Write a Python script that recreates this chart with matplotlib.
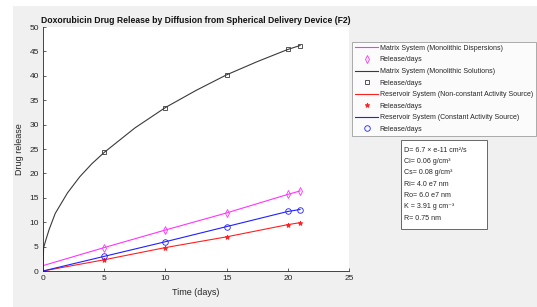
import numpy as np
import matplotlib.pyplot as plt
from matplotlib.patches import Rectangle

plt.rcParams['font.family'] = ['Liberation Sans', 'DejaVu Sans']

# release data
t_days = [5, 10, 15, 20, 21]
dispersion_pts = [4.8, 8.4, 11.9, 15.7, 16.4]
solution_pts = [24.3, 33.5, 40.2, 45.4, 46.2]
nonconst_pts = [2.3, 4.8, 7.0, 9.5, 9.9]
const_pts = [3.0, 6.0, 9.1, 12.2, 12.6]

t_line = [0, 5, 10, 15, 20, 21]
dispersion_line = [1.1, 4.8, 8.4, 11.9, 15.7, 16.4]
nonconst_line = [0, 2.3, 4.8, 7.0, 9.5, 9.9]
const_line = [0, 3.0, 6.0, 9.1, 12.2, 12.6]

t_curve = [0, 0.05, 0.25, 0.5, 1, 2, 3, 4, 5, 7.5, 10, 12.5, 15, 17.5, 20, 21]
solution_curve = [0, 4.8, 6.5, 8.5, 11.8, 16.0, 19.3, 22.0, 24.3, 29.3, 33.5, 37.0, 40.2, 42.9, 45.4, 46.2]

info_lines = ["D= 6.7 \u00d7 e-11 cm\u00b2/s", "Ci= 0.06 g/cm\u00b3", "Cs= 0.08 g/cm\u00b3",
              "Ri= 4.0 e7 nm", "Ro= 6.0 e7 nm", "K = 3.91 g cm\u207b\u00b3", "R= 0.75 nm"]

W, H = 537, 307
fig = plt.figure(figsize=(W / 100, H / 100), dpi=100, facecolor='white')
fig.patches.append(Rectangle((13 / W, 0), 1, 1 - 6 / H, transform=fig.transFigure,
                             facecolor='#f0f0f0', edgecolor='none', zorder=-10))

ax = fig.add_axes([43 / W, 1 - 271 / H, 306 / W, 244 / H])
gray = '#262626'

ax.plot(t_line, dispersion_line, color='#ff33ff', lw=0.8, label='Matrix System (Monolithic Dispersions)')
ax.plot(t_days, dispersion_pts, 'd', mfc='none', mec='#ff33ff', ms=4, mew=0.6, label='Release/days')
ax.plot(t_curve, solution_curve, color='#3a3a3a', lw=0.8, label='Matrix System (Monolithic Solutions)')
ax.plot(t_days, solution_pts, 's', mfc='none', mec='#3a3a3a', ms=3, mew=0.6, label='Release/days')
ax.plot(t_line, nonconst_line, color='#ff2020', lw=0.8, label='Reservoir System (Non-constant Activity Source)')
ax.plot(t_days, nonconst_pts, '*', color='#ff2020', ms=3.5, mew=0.6, label='Release/days')
ax.plot(t_line, const_line, color='#2020ff', lw=0.8, label='Reservoir System (Constant Activity Source)')
ax.plot(t_days, const_pts, 'o', mfc='none', mec='#2020ff', ms=4, mew=0.6, label='Release/days')

ax.set_xlim(0, 25)
ax.set_ylim(0, 50)
ax.set_xticks(range(0, 26, 5))
ax.set_yticks(range(0, 51, 5))
ax.spines['top'].set_visible(False)
ax.spines['right'].set_visible(False)
for s in ['left', 'bottom']:
    ax.spines[s].set_color(gray)
    ax.spines[s].set_linewidth(0.6)
ax.tick_params(direction='in', length=2.5, width=0.5, colors=gray, labelsize=6, pad=3)
ax.set_xlabel('Time (days)', fontsize=6.5, color=gray, labelpad=4)
ax.set_ylabel('Drug release', fontsize=6.5, color=gray, labelpad=4)
ax.set_title('Doxorubicin Drug Release by Diffusion from Spherical Delivery Device (F2)',
             fontsize=6.2, fontweight='bold', color='#111111', pad=3)

leg = fig.legend(loc='upper left', bbox_to_anchor=(352 / W, 1 - 42 / H), fontsize=5.0,
                 frameon=True, fancybox=False, edgecolor='#888888', handlelength=3.4,
                 handletextpad=0.2, labelspacing=0.66, borderpad=0.4, borderaxespad=0)
leg.get_frame().set_linewidth(0.6)
for txt in leg.get_texts():
    txt.set_color(gray)

# parameter box
fig.patches.append(Rectangle((401 / W, 1 - 229 / H), 86 / W, 89 / H, transform=fig.transFigure,
                             facecolor='white', edgecolor='#666666', linewidth=0.7))
for i, line in enumerate(info_lines):
    fig.text(404 / W, 1 - (150 + i * 11.4) / H, line, fontsize=5.1, color=gray,
             va='center', ha='left')

fig.savefig('out.png', dpi=100)
